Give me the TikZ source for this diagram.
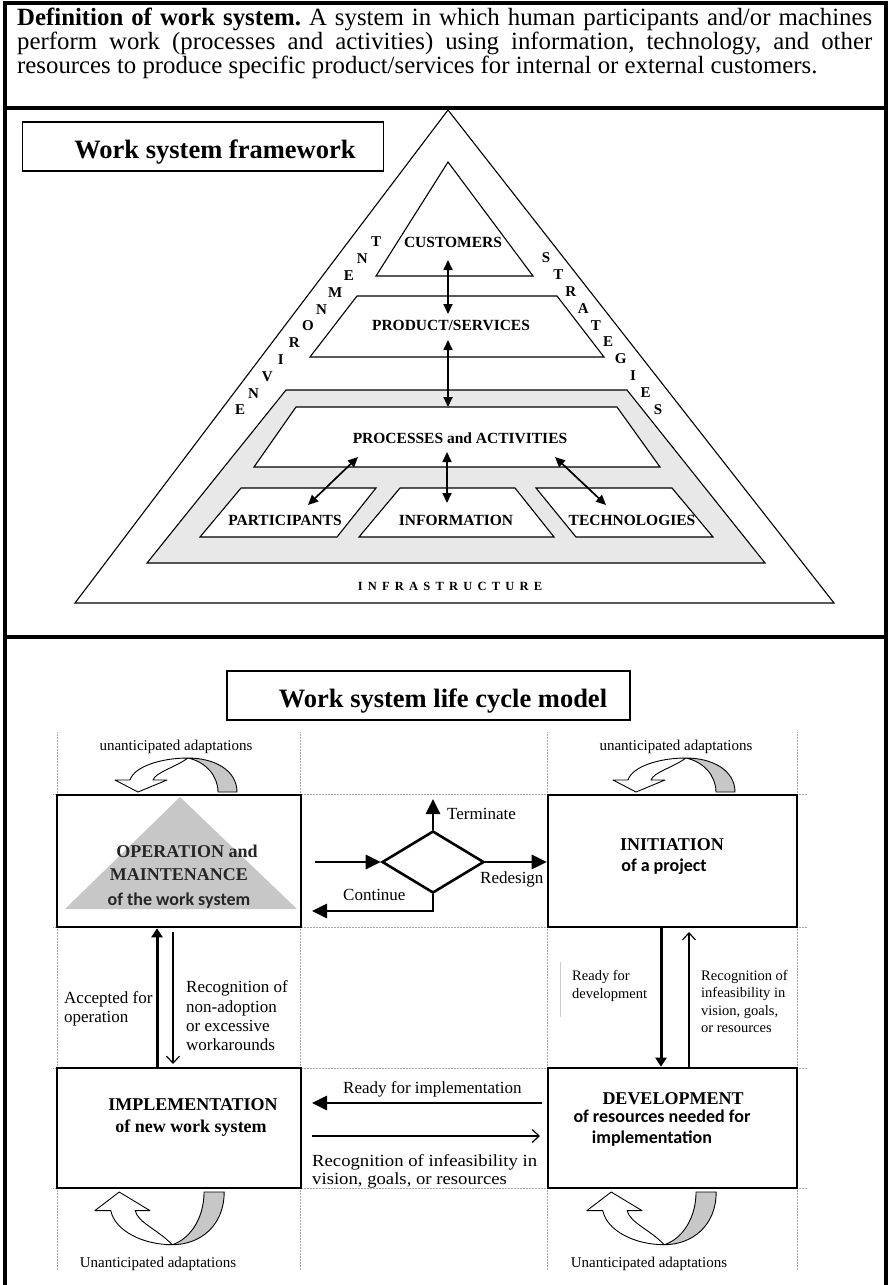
\documentclass[tikz,border=0pt]{standalone}
\usepackage{fontspec}
\setmainfont{Liberation Serif}
\newfontfamily\calib{Carlito}
\usetikzlibrary{arrows.meta,shapes.geometric,calc}
\newcommand\infsp{\hspace{5.2pt}}
\begin{document}
\begin{tikzpicture}[x=1pt,y=-1pt,
 fwline/.style={line width=1.1pt,line join=miter},
 frameln/.style={line width=3.6pt},
 lcbox/.style={draw,line width=2.6pt,inner sep=0pt},
 gridln/.style={draw=black!35,line width=0.5pt,densely dotted},
 heavyarr/.style={line width=2.8pt,-{Triangle[length=15pt,width=14pt]}},
 vheavy/.style={line width=3pt,-{Triangle[length=9pt,width=11pt]}},
 lightarr/.style={line width=1.2pt,-{Straight Barb[length=7pt,width=13pt]}},
 dblarr/.style={line width=1.7pt,{Triangle[length=10pt,width=9pt]}-{Triangle[length=10pt,width=9pt]}},
 fwlab/.style={font=\fontsize{15.5}{17}\selectfont\bfseries,inner sep=0pt,anchor=base},
 envlet/.style={font=\fontsize{15}{17}\selectfont\bfseries,inner sep=0pt},
 ttl/.style={font=\fontsize{26.5}{28}\selectfont\bfseries,inner sep=0pt,anchor=base},
 stage/.style={font=\fontsize{18}{20}\selectfont\bfseries,inner sep=0pt,anchor=base,text=black!85},
 stagecal/.style={font=\calib\fontsize{18}{20}\selectfont\bfseries,inner sep=0pt,anchor=base,text=black!85},
 adlab/.style={font=\fontsize{15}{17}\selectfont,inner sep=0pt,anchor=base},
 lbl/.style={font=\fontsize{17}{19}\selectfont,inner sep=0pt,anchor=base west},
 lbls/.style={font=\fontsize{14.5}{17}\selectfont,inner sep=0pt,anchor=base west},
 adapt/.pic={
  \filldraw[fill=white,draw=black,line width=0.9pt,line join=round]
   (4,-34) .. controls (-24,-34) and (-50,-25) .. (-54,-12) -- (-69,-12) -- (-46,0) -- (-17,-12) -- (-31,-12)
   .. controls (-28,-20) and (-10,-24) .. (4,-34) -- cycle;
  \filldraw[fill=black!22,draw=black,line width=0.9pt,line join=round]
   (4,-34) .. controls (30,-34) and (53,-22) .. (53,0) -- (34,0) .. controls (34,-16) and (22,-30) .. (4,-34) -- cycle;
 }
]
\useasboundingbox (0,0) rectangle (890,1285);
\fill[white] (0,0) rectangle (890,1285);

% outer frame
\draw[frameln,line join=miter] (5,1285) -- (5,3) -- (886,3) -- (886,1285);
\draw[frameln] (5,108) -- (886,108);
\draw[frameln] (5,637) -- (886,637);

% definition
\node[anchor=north west,text width=855pt,align=justify,inner sep=0pt,font=\fontsize{24.8}{24}\selectfont] (def) at (17,8)
 {\frenchspacing
 \textbf{Definition of work system.} A system in which human participants and/or machines \mbox{perform} work (processes and activities) using information, technology, and other \mbox{resources} to produce specific product/services for internal or external customers.};

% ===== framework =====
\node[draw,fwline,minimum width=361pt,minimum height=49pt,inner sep=0pt] (fwbox) at (203,146.5) {};
\node[ttl] (fwtitle) at (215,158) {Work system framework};

\coordinate (apex) at (448,110);
\coordinate (bl) at (75,603);
\coordinate (br) at (834,603);
\draw[fwline] (apex) -- (bl) -- (br) -- cycle;

\coordinate (cA) at (448,162); \coordinate (cL) at (376,276); \coordinate (cR) at (533,276);
\draw[fwline] (cA) -- (cL) -- (cR) -- cycle;

\draw[fwline] (357,296) -- (557,296) -- (604,357) -- (310,357) -- cycle;

\draw[fwline,fill=black!9] (286,390) -- (627,390) -- (765,563) -- (147,563) -- cycle;
\draw[fwline,fill=white] (296,407) -- (617,407) -- (660,467) -- (254,467) -- cycle;
\draw[fwline,fill=white] (241,488) -- (376,488) -- (337,537) -- (200,537) -- cycle;
\draw[fwline,fill=white] (400,488) -- (515,488) -- (554,537) -- (359,537) -- cycle;
\draw[fwline,fill=white] (536,488) -- (672,488) -- (713,537) -- (576,537) -- cycle;

\node[fwlab] (cust) at (453,247) {CUSTOMERS};
\node[fwlab] (prod) at (451,330) {PRODUCT/SERVICES};
\node[fwlab] (proc) at (460,443) {PROCESSES and ACTIVITIES};
\node[fwlab] (part) at (285,525) {PARTICIPANTS};
\node[fwlab] (info) at (456,525) {INFORMATION};
\node[fwlab] (tech) at (632,525) {TECHNOLOGIES};
\node[font=\fontsize{12.5}{14}\selectfont\bfseries,inner sep=0pt,anchor=base] (infra) at (450,590)
 {I\infsp N\infsp F\infsp R\infsp A\infsp S\infsp T\infsp R\infsp U\infsp C\infsp T\infsp U\infsp R\infsp E};

\foreach \lett [count=\i from 0] in {E,N,V,I,R,O,N,M,E,N,T}
  \node[envlet] (env\i) at ({240+13.6*\i},{410-16.8*\i}) {\lett};
\foreach \lett [count=\i from 0] in {S,T,R,A,T,E,G,I,E,S}
  \node[envlet] (str\i) at ({546+12.44*\i},{258+16.8*\i}) {\lett};

\coordinate (a1) at (448,260); \coordinate (a2) at (448,314);
\coordinate (a3) at (448,340); \coordinate (a4) at (448,407);
\coordinate (pa1) at (358,457); \coordinate (pa2) at (308,505);
\coordinate (in1) at (447,452); \coordinate (in2) at (447,503);
\coordinate (te1) at (555,457); \coordinate (te2) at (606,505);
\draw[dblarr] (a1) -- (a2);
\draw[dblarr] (a3) -- (a4);
\draw[dblarr] (pa1) -- (pa2);
\draw[dblarr] (in1) -- (in2);
\draw[dblarr] (te1) -- (te2);

% ===== life cycle =====
\node[draw,fwline,minimum width=403pt,minimum height=49pt,inner sep=0pt] (lcbx) at (428.5,695.5) {};
\node[ttl] (lctitle) at (443,707) {Work system life cycle model};

\foreach \gx in {57,300,547,797} \draw[gridln] (\gx,732) -- (\gx,1270);
\foreach \gy in {794,927,1068,1188} \draw[gridln] (53,\gy) -- (807,\gy);

\fill[black!22] (180,797) -- (65,909) -- (297,909) -- cycle;

\node[lcbox,minimum width=244pt,minimum height=132pt] (op) at (179,861) {};
\node[lcbox,minimum width=249pt,minimum height=132pt] (init) at (672.5,861) {};
\node[lcbox,minimum width=244pt,minimum height=120pt] (impl) at (179,1128) {};
\node[lcbox,minimum width=249pt,minimum height=120pt] (dev) at (672.5,1128) {};

\node[stage] (op1) at (187,857) {OPERATION and};
\node[stage] (op2) at (179,880) {MAINTENANCE};
\node[stagecal] (op3) at (179,905) {of the work system};
\node[stage,text=black] (in1t) at (672,850) {INITIATION};
\node[stagecal,text=black] (in2t) at (664,871) {of a project};
\node[stage,text=black] (im1) at (193,1110) {IMPLEMENTATION};
\node[stage,text=black] (im2) at (191,1132) {of new work system};
\node[stage,text=black] (de1) at (673,1104) {DEVELOPMENT};
\node[stagecal,text=black] (de2) at (662,1122) {of resources needed for};
\node[stagecal,text=black] (de3) at (652,1143) {implementation};

% curved adaptation arrows
\pic at (184,792) {adapt};
\pic at (682,792) {adapt};
\pic[xscale=1.06,yscale=-1.55] at (168,1192) {adapt};
\pic[xscale=1.06,yscale=-1.55] at (660,1192) {adapt};
\node[adlab] (ua1) at (176,750) {unanticipated adaptations};
\node[adlab] (ua2) at (676,750) {unanticipated adaptations};
\node[adlab] (ua3) at (158,1267) {Unanticipated adaptations};
\node[adlab] (ua4) at (649,1267) {Unanticipated adaptations};

% decision
\node[diamond,draw,line width=2.6pt,minimum width=102pt,minimum height=62pt,inner sep=0pt,aspect=1.645] (dec) at (433,862) {};
\coordinate (termtip) at (433,799);
\coordinate (inL) at (315,862);
\coordinate (contEnd) at (312,911);
\draw[heavyarr] (dec.north) -- (termtip);
\draw[heavyarr] (inL) -- (dec.west);
\draw[heavyarr] (dec.east) -- (dec.east -| init.west);
\draw[heavyarr] (dec.south) |- (contEnd);
\node[lbl] (term) at (447,819) {Terminate};
\node[lbl] (redes) at (480,883) {Redesign};
\node[lbl] (cont) at (343,900) {Continue};

% left middle
\coordinate (accX) at (157,0);
\draw[vheavy] (impl.north -| accX) -- (op.south -| accX);
\coordinate (rn1) at (173,932); \coordinate (rn2) at (173,1064);
\draw[lightarr] (rn1) -- (rn2);
\node[lbl] (acc1) at (64,1003) {Accepted for};
\node[lbl] (acc2) at (64,1022) {operation};
\node[lbl] (rl1) at (186,992) {Recognition of};
\node[lbl] (rl2) at (186,1012) {non-adoption};
\node[lbl] (rl3) at (186,1031) {or excessive};
\node[lbl] (rl4) at (186,1050) {workarounds};

% right middle
\coordinate (rdX) at (661,0);
\draw[vheavy] (init.south -| rdX) -- (dev.north -| rdX);
\coordinate (riX) at (689,0); \coordinate (riTop) at (689,932);
\draw[lightarr] (dev.north -| riX) -- (riTop);
\draw[black!20,line width=0.6pt] (560,962) -- (560,1017);
\node[lbls] (rd1) at (572,980) {Ready for};
\node[lbls] (rd2) at (572,998) {development};
\node[lbls] (rr1) at (701,980) {Recognition of};
\node[lbls] (rr2) at (701,997) {infeasibility in};
\node[lbls] (rr3) at (701,1015) {vision, goals,};
\node[lbls] (rr4) at (701,1032) {or resources};

% bottom middle
\coordinate (rfi1) at (542,1103); \coordinate (rfi2) at (312,1103);
\draw[heavyarr] (rfi1) -- (rfi2);
\coordinate (rif1) at (312,1136); \coordinate (rif2) at (540,1136);
\draw[lightarr] (rif1) -- (rif2);
\node[lbl] (rfi) at (343,1093) {Ready for implementation};
\node[lbl] (rif3) at (312,1166) {\scalebox{1.1}[1]{Recognition of infeasibility in}};
\node[lbl] (rif4) at (312,1184) {\scalebox{1.1}[1]{vision, goals, or resources}};
\end{tikzpicture}
\end{document}
